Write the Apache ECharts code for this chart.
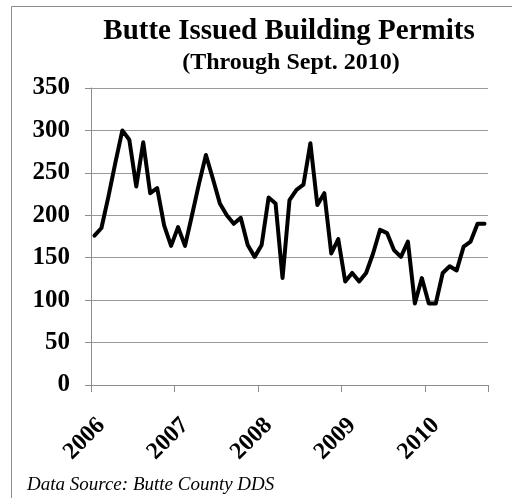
<!DOCTYPE html>
<html>
<head>
<meta charset="utf-8">
<script src="https://cdn.jsdelivr.net/npm/echarts@6/dist/echarts.min.js"></script>
<style>html,body{margin:0;padding:0;background:#fff}#c{width:512px;height:498px}</style>
</head>
<body>
<div id="c"></div>
<script>
// Monthly issued building permits, Jan 2006 - Sep 2010
const years = [2006, 2007, 2008, 2009, 2010];
const months = [];
for (let y = 0; y < years.length; y++) {
  for (let m = 1; m <= 12; m++) {
    if (years[y] === 2010 && m > 9) break;
    months.push(years[y] + '-' + (m < 10 ? '0' + m : m));
  }
}
const permits = [
  176, 185, 222, 262, 300, 289, 234, 286, 226, 232, 188, 164,
  186, 164, 200, 237, 271, 243, 214, 200, 190, 197, 165, 151,
  165, 221, 214, 126, 218, 230, 236, 285, 212, 226, 155, 172,
  122, 132, 122, 132, 155, 183, 179, 159, 151, 169, 96, 126,
  96, 96, 132, 140, 135, 163, 169, 190, 190
];
const yTicks = [0, 50, 100, 150, 200, 250, 300, 350];
const titleText = 'Butte Issued Building Permits';
const subtitleText = '(Through Sept. 2010)';
const sourceText = 'Data Source: Butte County DDS';

const serif = "'Liberation Serif', 'DejaVu Serif', serif";
const chart = echarts.init(document.getElementById('c'));
chart.setOption({
  animation: false,
  backgroundColor: '#fff',
  grid: { left: 91, right: 24, top: 88, bottom: 113 },
  title: [
    { text: titleText, left: 284, top: 12, textAlign: 'center',
      textStyle: { fontFamily: serif, fontWeight: 'bold', fontSize: 29, color: '#000' } },
    { text: subtitleText, left: 286, top: 46, textAlign: 'center',
      textStyle: { fontFamily: serif, fontWeight: 'bold', fontSize: 24, color: '#000' } }
  ],
  graphic: [
    { type: 'rect', shape: { x: 11.5, y: 6.5, width: 560, height: 560 }, silent: true,
      style: { fill: 'none', stroke: '#8c8c8c', lineWidth: 1 } },
    { type: 'text', left: 27, top: 475,
      style: { text: sourceText, font: "italic 19px 'Liberation Serif', serif", fill: '#000' } }
  ],
  xAxis: {
    type: 'category',
    data: months,
    boundaryGap: true,
    axisLine: { lineStyle: { color: '#8c8c8c', width: 1 } },
    axisTick: { show: true, length: 7, interval: function (i) { return i % 12 === 0; },
      lineStyle: { color: '#8c8c8c' } },
    axisLabel: {
      interval: function (i) { return i % 12 === 1; },
      formatter: function (v) { return v.slice(0, 4); },
      rotate: 45, margin: 37,
      fontFamily: serif, fontWeight: 'bold', fontSize: 24, color: '#000'
    },
    splitLine: { show: false }
  },
  yAxis: {
    type: 'value',
    min: yTicks[0], max: yTicks[yTicks.length - 1], interval: yTicks[1] - yTicks[0],
    axisLine: { show: true, lineStyle: { color: '#8c8c8c', width: 1 } },
    axisTick: { show: true, length: 6, lineStyle: { color: '#8c8c8c' } },
    axisLabel: { margin: 21, fontFamily: serif, fontWeight: 'bold', fontSize: 25, color: '#000' },
    splitLine: { lineStyle: { color: '#9a9a9a', width: 1 } }
  },
  series: [{
    type: 'line',
    data: permits,
    showSymbol: false,
    symbol: 'none',
    lineStyle: { color: '#000', width: 4, join: 'round', cap: 'round' }
  }]
});
</script>
</body>
</html>
